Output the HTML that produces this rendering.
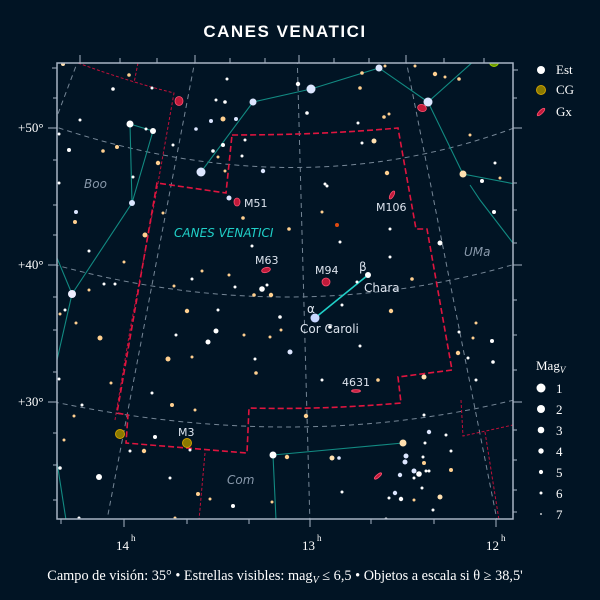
<!DOCTYPE html>
<html><head><meta charset="utf-8"><style>
html,body{margin:0;padding:0;background:#011424;}
svg{display:block}
</style></head><body>
<svg width="600" height="600" viewBox="0 0 600 600" xmlns="http://www.w3.org/2000/svg">
<rect width="600" height="600" fill="#011424"/>
<text x="285" y="37" text-anchor="middle" fill="#ffffff" font-family="Liberation Sans, sans-serif" font-weight="bold" font-size="17" letter-spacing="1.5">CANES VENATICI</text>
<defs><clipPath id="c"><rect x="57" y="63" width="456" height="456"/></clipPath></defs>
<g clip-path="url(#c)">
<g fill="none" stroke="#8a9aaa" stroke-width="1" stroke-dasharray="5,4" opacity="0.85">
<path d="M50,125 Q300,210 522,125"/>
<path d="M45,262 Q290,332 522,262"/>
<path d="M45,400 Q300,455 522,398"/>
<path d="M82,50 L50,135"/>
<path d="M197,50 L106,525"/>
<path d="M297,50 L310,525"/>
<path d="M404,50 L498,525"/>
</g>
<g fill="none" stroke="#c0103a" stroke-width="1" stroke-dasharray="3,2">
<path d="M78,63 Q130,82 174,93 L155,200 L130,330 L115,420"/>
<path d="M138,63 L134,83"/>
<path d="M205,453 L199,520"/>
<path d="M461,400 L463,436 L513,425"/>
<path d="M485,432 L499,520"/>
</g>
<path d="M232,135 Q320,135 398,128 L416,229 L427,229 L452,370 L398,377 L401,403 Q320,410 249,408 L247,453 L126,443 L128,415 L117,413 L157,183 L226,193 Z" fill="none" stroke="#e0153f" stroke-width="1.6" stroke-dasharray="6,3"/>
<g stroke="#128a82" stroke-width="1.1" fill="none">
<path d="M201,172 L253,102 L311,89 L379,68 L428,102 L475,60"/>
<path d="M428,102 L463,174 L515,184"/>
<path d="M470,185 L480,200 L513,243"/>
<path d="M130,124 L153,131 L132,203 M130,124 L132,203"/>
<path d="M132,203 L72,294 L57,258 M72,294 L57,360"/>
<path d="M57,462 L66,520"/>
<path d="M273,455 L403,443 M273,455 L276,520"/>
</g>
<line x1="315" y1="318" x2="368" y2="275" stroke="#20d0c8" stroke-width="1.6"/>
<g fill="#ffffff">
<circle cx="201" cy="172" r="4.5" fill="#dce6ff"/>
<circle cx="253" cy="102" r="3.5" fill="#dce6ff"/>
<circle cx="311" cy="89" r="4.5" fill="#dce6ff"/>
<circle cx="379" cy="68" r="3.5" fill="#dce6ff"/>
<circle cx="428" cy="102" r="4.5" fill="#dce6ff"/>
<circle cx="463" cy="174" r="3.5" fill="#ffe0b0"/>
<circle cx="72" cy="294" r="4" fill="#eef"/>
<circle cx="130" cy="124" r="3.5"/>
<circle cx="153" cy="131" r="3"/>
<circle cx="132" cy="203" r="3" fill="#dce6ff"/>
<circle cx="315" cy="318" r="4.5" fill="#c8d6ff"/>
<circle cx="368" cy="275" r="3"/>
<circle cx="273" cy="455" r="3.5"/>
<circle cx="403" cy="443" r="3.5" fill="#ffe0b0"/>
<circle cx="229" cy="198" r="2.5" fill="#dce6ff"/>
<circle cx="225" cy="102" r="1.8"/><circle cx="236" cy="119" r="2" fill="#dce6ff"/>
<circle cx="211" cy="121" r="2" fill="#dce6ff"/><circle cx="223" cy="119" r="2.5" fill="#ffd090"/>
<circle cx="227" cy="79" r="1.5"/><circle cx="216" cy="100" r="1.5"/>
<circle cx="223" cy="145" r="2"/><circle cx="213" cy="151" r="1.8"/>
<circle cx="196" cy="129" r="1.8" fill="#dce6ff"/><circle cx="245" cy="140" r="1.5"/>
<circle cx="218" cy="157" r="1.5" fill="#ffd090"/><circle cx="242" cy="156" r="1.5"/>
<circle cx="225" cy="171" r="1.5" fill="#ffd090"/><circle cx="263" cy="171" r="2.2" fill="#dce6ff"/>
<circle cx="298" cy="84" r="2.2"/><circle cx="307" cy="113" r="1.8"/>
<circle cx="362" cy="73" r="1.8" fill="#ffd090"/><circle cx="385" cy="66" r="1.5" fill="#ffd090"/>
<circle cx="415" cy="66" r="1.5" fill="#ffd090"/><circle cx="435" cy="74" r="2.2" fill="#ffd090"/>
<circle cx="445" cy="77" r="1.5" fill="#ffd090"/><circle cx="459" cy="79" r="1.8" fill="#ffd090"/>
<circle cx="360" cy="88" r="1.8" fill="#ffd090"/><circle cx="384" cy="117" r="1.8" fill="#ffd090"/>
<circle cx="389" cy="114" r="1.5" fill="#ffd090"/><circle cx="358" cy="123" r="1.5"/>
<circle cx="362" cy="143" r="1.5"/><circle cx="374" cy="141" r="2.5" fill="#ffe0b0"/>
<circle cx="470" cy="135" r="1.5" fill="#ffd090"/><circle cx="387" cy="173" r="2.2" fill="#ffd090"/>
<circle cx="325" cy="184" r="1.5"/><circle cx="327" cy="186" r="1.5"/>
<circle cx="495" cy="163" r="1.5"/><circle cx="482" cy="181" r="2"/><circle cx="500" cy="178" r="1.5" fill="#ffd090"/>
<circle cx="80" cy="120" r="1.5"/><circle cx="59" cy="134" r="1.5"/><circle cx="69" cy="150" r="2"/>
<circle cx="103" cy="151" r="1.8" fill="#ffd090"/><circle cx="117" cy="147" r="2" fill="#ffd090"/>
<circle cx="158" cy="163" r="2.2" fill="#ffd090"/><circle cx="173" cy="145" r="1.5"/>
<circle cx="146" cy="129" r="1.5"/><circle cx="113" cy="89" r="1.8"/><circle cx="129" cy="75" r="1.8" fill="#ffd090"/>
<circle cx="152" cy="88" r="1.5"/><circle cx="63" cy="64" r="2" fill="#ffe0b0"/>
<circle cx="59" cy="183" r="1.5"/><circle cx="133" cy="177" r="1.5"/>
<circle cx="76" cy="212" r="2" fill="#dce6ff"/><circle cx="75" cy="222" r="2" fill="#ffd090"/>
<circle cx="89" cy="251" r="1.5"/><circle cx="124" cy="262" r="1.5" fill="#ffd090"/>
<circle cx="89" cy="290" r="1.5" fill="#ffd090"/><circle cx="104" cy="284" r="1.5"/>
<circle cx="115" cy="284" r="1.5"/><circle cx="145" cy="235" r="2.5" fill="#ffd090"/>
<circle cx="163" cy="213" r="1.5" fill="#ffd090"/><circle cx="60" cy="314" r="1.5" fill="#ffd090"/>
<circle cx="65" cy="310" r="1.5"/><circle cx="76" cy="323" r="1.5" fill="#ffd090"/>
<circle cx="100" cy="338" r="2.5" fill="#ffd090"/><circle cx="59" cy="379" r="1.5"/>
<circle cx="111" cy="383" r="1.5" fill="#ffd090"/><circle cx="152" cy="393" r="1.5"/>
<circle cx="243" cy="218" r="1.8" fill="#ffd090"/><circle cx="289" cy="229" r="1.8" fill="#ffd090"/>
<circle cx="252" cy="246" r="1.5"/><circle cx="322" cy="212" r="1.5" fill="#ffd090"/>
<circle cx="340" cy="242" r="1.5"/><circle cx="390" cy="257" r="1.5"/>
<circle cx="202" cy="271" r="1.5" fill="#ffd090"/><circle cx="229" cy="275" r="1.5" fill="#ffd090"/>
<circle cx="192" cy="279" r="1.5"/><circle cx="174" cy="286" r="1.5" fill="#ffd090"/>
<circle cx="235" cy="287" r="1.5"/><circle cx="262" cy="289" r="2.8"/>
<circle cx="271" cy="295" r="2.2" fill="#ffd090"/><circle cx="254" cy="295" r="1.8" fill="#ffd090"/>
<circle cx="267" cy="285" r="1.5"/><circle cx="357" cy="282" r="1.5"/>
<circle cx="412" cy="279" r="1.8" fill="#ffd090"/><circle cx="342" cy="305" r="1.5"/>
<circle cx="391" cy="311" r="2.2" fill="#ffd090"/><circle cx="187" cy="311" r="2.2" fill="#ffd090"/>
<circle cx="218" cy="310" r="1.5"/><circle cx="280" cy="317" r="1.8"/>
<circle cx="330" cy="327" r="1.8"/><circle cx="216" cy="331" r="2.5"/>
<circle cx="244" cy="335" r="1.5" fill="#ffd090"/><circle cx="270" cy="337" r="1.5" fill="#ffd090"/>
<circle cx="281" cy="330" r="1.5" fill="#ffd090"/><circle cx="176" cy="335" r="1.5"/>
<circle cx="208" cy="342" r="2.5"/><circle cx="290" cy="352" r="2.5" fill="#dce6ff"/>
<circle cx="360" cy="346" r="1.5"/><circle cx="168" cy="359" r="2.5" fill="#ffd090"/>
<circle cx="192" cy="357" r="1.5" fill="#ffd090"/><circle cx="255" cy="359" r="1.5"/>
<circle cx="256" cy="373" r="1.8" fill="#ffd090"/><circle cx="322" cy="380" r="1.5"/>
<circle cx="378" cy="380" r="1.8" fill="#ffd090"/><circle cx="424" cy="377" r="2.5" fill="#ffe0b0"/>
<circle cx="476" cy="323" r="1.5" fill="#ffd090"/><circle cx="473" cy="338" r="1.5" fill="#ffd090"/>
<circle cx="459" cy="332" r="1.5"/><circle cx="458" cy="353" r="2.2" fill="#ffd090"/>
<circle cx="492" cy="341" r="2"/><circle cx="493" cy="362" r="1.8"/>
<circle cx="476" cy="380" r="1.5"/><circle cx="468" cy="358" r="1.5"/>
<circle cx="494" cy="212" r="2"/><circle cx="440" cy="243" r="2.5"/>
<circle cx="390" cy="229" r="1.5"/>
<circle cx="172" cy="405" r="2" fill="#ffd090"/><circle cx="195" cy="410" r="1.5" fill="#ffd090"/>
<circle cx="82" cy="405" r="1.5"/><circle cx="74" cy="416" r="1.5" fill="#ffd090"/>
<circle cx="155" cy="437" r="2"/><circle cx="144" cy="451" r="2.2" fill="#ffd090"/>
<circle cx="130" cy="451" r="1.5"/><circle cx="190" cy="450" r="1.5"/>
<circle cx="64" cy="440" r="1.5" fill="#ffd090"/><circle cx="60" cy="468" r="1.8"/>
<circle cx="99" cy="477" r="3"/><circle cx="170" cy="478" r="1.5"/>
<circle cx="198" cy="494" r="2" fill="#ffd090"/><circle cx="210" cy="499" r="1.5" fill="#ffd090"/>
<circle cx="233" cy="506" r="2"/><circle cx="272" cy="502" r="1.5" fill="#ffd090"/>
<circle cx="79" cy="518" r="1.5"/><circle cx="175" cy="518" r="1.5" fill="#ffd090"/>
<circle cx="287" cy="457" r="2.2" fill="#ffd090"/><circle cx="306" cy="416" r="2.2" fill="#ffd090"/>
<circle cx="332" cy="458" r="2.5" fill="#ffe0b0"/><circle cx="339" cy="458" r="1.8" fill="#dce6ff"/>
<circle cx="342" cy="492" r="1.5"/><circle cx="424" cy="415" r="1.5"/>
<circle cx="429" cy="432" r="2.2" fill="#dce6ff"/><circle cx="446" cy="435" r="1.5"/>
<circle cx="425" cy="443" r="1.5"/><circle cx="406" cy="456" r="2.5" fill="#dce6ff"/>
<circle cx="405" cy="462" r="2.5" fill="#dce6ff"/><circle cx="423" cy="457" r="1.5"/>
<circle cx="424" cy="463" r="2" fill="#ffd090"/><circle cx="451" cy="451" r="1.5"/>
<circle cx="414" cy="471" r="2.5" fill="#dce6ff"/><circle cx="400" cy="475" r="2.2" fill="#dce6ff"/>
<circle cx="419" cy="474" r="2.8"/><circle cx="426" cy="471" r="1.5"/><circle cx="429" cy="471" r="1.5"/>
<circle cx="451" cy="470" r="2" fill="#ffd090"/><circle cx="414" cy="478" r="1.5"/>
<circle cx="422" cy="488" r="1.5"/><circle cx="395" cy="493" r="2.2" fill="#dce6ff"/>
<circle cx="389" cy="498" r="1.5"/><circle cx="401" cy="499" r="2.2"/>
<circle cx="414" cy="500" r="1.5" fill="#ffd090"/><circle cx="440" cy="497" r="2.5" fill="#ffe0b0"/>
<circle cx="433" cy="510" r="1.5"/><circle cx="386" cy="519" r="1.5"/>
</g>
<circle cx="337" cy="225" r="2" fill="#e04a10"/>
<g fill="#c01a3a" stroke="#ff5070" stroke-width="0.8">
<ellipse cx="179" cy="101" rx="4" ry="4.5"/>
<ellipse cx="237" cy="202" rx="3" ry="4"/>
<ellipse cx="266" cy="270" rx="4.5" ry="2.5" transform="rotate(-15 266 270)"/>
<circle cx="326" cy="282" r="4"/>
<ellipse cx="392" cy="195" rx="1.8" ry="4.5" transform="rotate(30 392 195)"/>
<ellipse cx="356" cy="391" rx="4.5" ry="1.3"/>
<ellipse cx="422" cy="108" rx="4.5" ry="3.5" transform="rotate(20 422 108)"/>
<ellipse cx="378" cy="476" rx="1.5" ry="4.5" transform="rotate(50 378 476)"/>
</g>
<g fill="#8a7a00" stroke="#d0a000" stroke-width="1">
<circle cx="187" cy="443" r="4.5"/><circle cx="120" cy="434" r="4.5"/>
</g>
<circle cx="494" cy="62" r="4.5" fill="#6a9a00" stroke="#a0d000"/>
<g font-family="DejaVu Sans, sans-serif" font-size="11" fill="#dde4ee">
<text x="244" y="207">M51</text>
<text x="376" y="211">M106</text>
<text x="255" y="264">M63</text>
<text x="315" y="274">M94</text>
<text x="342" y="386">4631</text>
<text x="178" y="436">M3</text>
<text x="359" y="271" font-size="12">β</text>
<text x="364" y="292" font-size="12">Chara</text>
<text x="307" y="313" font-size="12">α</text>
<text x="300" y="333" font-size="12">Cor Caroli</text>
</g>
<g font-family="DejaVu Sans, sans-serif" font-style="italic" font-size="12" fill="#8898aa">
<text x="84" y="188">Boo</text>
<text x="227" y="484">Com</text>
<text x="464" y="256">UMa</text>
</g>
<text x="174" y="237" font-family="DejaVu Sans, sans-serif" font-style="italic" font-size="12" fill="#20d0c8">CANES VENATICI</text>
</g>
<rect x="57" y="63" width="456" height="456" fill="none" stroke="#a8b4c4" stroke-width="1.5"/>
<g stroke="#a8b4c4" stroke-width="1">
<path d="M80,63 v-8 M120,63 v-5 M157,63 v-5 M195,63 v-8 M230,63 v-5 M265,63 v-5 M299,63 v-8 M334,63 v-5 M369,63 v-5 M406,63 v-8 M444,63 v-5 M484,63 v-5"/>
<path d="M61,519 v5 M124,519 v8 M187,519 v5 M249,519 v5 M310,519 v8 M371,519 v5 M434,519 v5 M496,519 v8"/>
<path d="M57,68 h-5 M57,98 h-4 M57,128 h-9 M57,160 h-4 M57,205 h-4 M57,235 h-4 M57,265 h-9 M57,297 h-4 M57,330 h-4 M57,372 h-4 M57,402 h-9 M57,433 h-4 M57,465 h-4 M57,500 h-4"/>
<path d="M513,70 h5 M513,98 h4 M513,128 h9 M513,183 h4 M513,210 h4 M513,243 h4 M513,265 h9 M513,300 h4 M513,335 h4 M513,370 h4 M513,402 h9 M513,430 h4 M513,460 h4 M513,490 h4 M513,512 h4"/>
</g>
<g font-family="Liberation Serif, serif" font-size="13" fill="#ffffff">
<text x="18" y="132">+50°</text>
<text x="18" y="269">+40°</text>
<text x="18" y="406">+30°</text>
<text x="116" y="550">14</text><text x="131" y="541" font-size="9">h</text>
<text x="302" y="550">13</text><text x="317" y="541" font-size="9">h</text>
<text x="486" y="550">12</text><text x="501" y="541" font-size="9">h</text>
<text x="285" y="580" text-anchor="middle" font-size="14.3">Campo de visión: 35°  •  Estrellas visibles: mag<tspan font-style="italic" font-size="10" dy="3">V</tspan><tspan dy="-3"> ≤ 6,5  •  Objetos a escala si θ ≥ 38,5'</tspan></text>
</g>
<g font-family="Liberation Serif, serif" font-size="13" fill="#ffffff">
<circle cx="541" cy="70" r="4"/><text x="556" y="74">Est</text>
<circle cx="541" cy="90" r="4.5" fill="#8a7a00" stroke="#d0a000"/><text x="556" y="94">CG</text>
<ellipse cx="541" cy="112" rx="1.8" ry="5" fill="#c01a3a" stroke="#ff5070" stroke-width="0.8" transform="rotate(45 541 112)"/><text x="556" y="116">Gx</text>
<text x="536" y="370">Mag<tspan font-style="italic" font-size="9" dy="3">V</tspan></text>
<circle cx="541" cy="388" r="4.5"/><text x="556" y="393">1</text>
<circle cx="541" cy="409" r="4"/><text x="556" y="414">2</text>
<circle cx="541" cy="430" r="3.3"/><text x="556" y="435">3</text>
<circle cx="541" cy="451" r="2.7"/><text x="556" y="456">4</text>
<circle cx="541" cy="472" r="2.1"/><text x="556" y="477">5</text>
<circle cx="541" cy="493" r="1.5"/><text x="556" y="498">6</text>
<circle cx="541" cy="514" r="0.9"/><text x="556" y="519">7</text>
</g>
</svg>
</body></html>
